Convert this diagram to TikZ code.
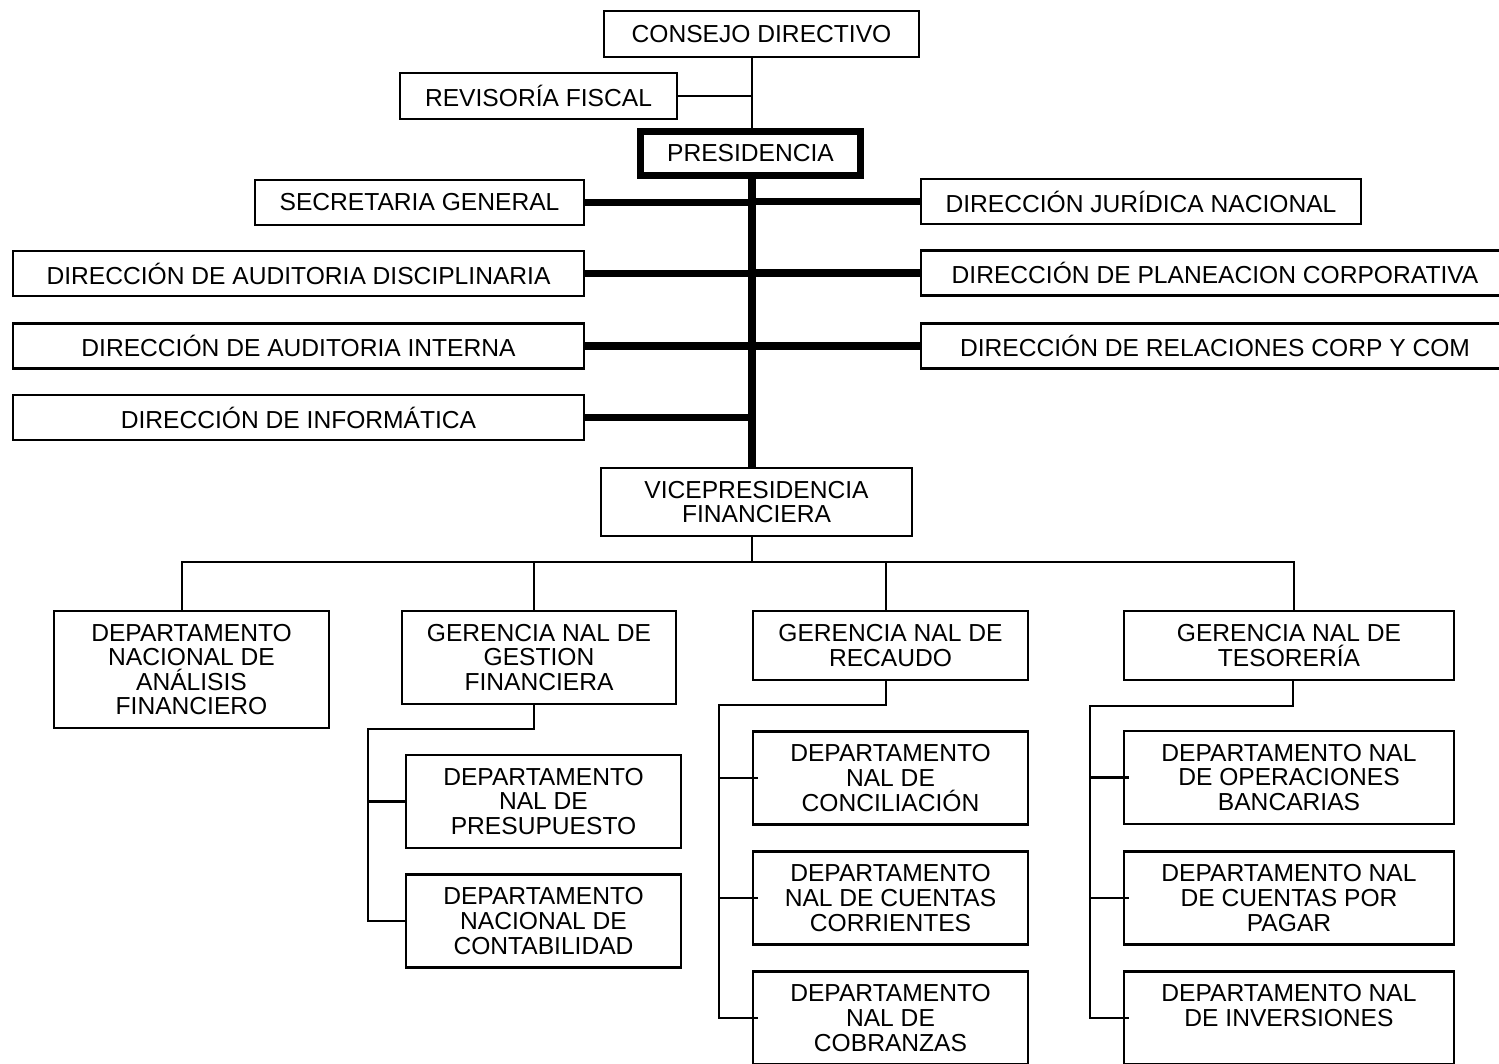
\documentclass[tikz,border=0pt]{standalone}
\usepackage{fontspec}
\setmainfont{Liberation Sans}
\usetikzlibrary{positioning}

\begin{document}
\begin{tikzpicture}
	[x=0.5pt,y=-0.5pt,
	box/.style={shape=rectangle,draw,line width=1.1pt,inner sep=0pt,align=center,font=\fontsize{12.3}{12.3}\selectfont},
	head box/.style={box,line width=3.5pt},
	line box/.style={box,minimum height=22.5pt},
	side box/.style={line box,minimum width=285.5pt},
	dept box/.style={box,minimum width=137.5pt,minimum height=46.5pt},
	tes box/.style={box,minimum width=165pt,minimum height=46.5pt},
	thin/.style={line width=1.1pt},
	thick line/.style={line width=3.7pt}
	]
	\useasboundingbox (0,0) rectangle (1499,1064);
	\clip (0,0) rectangle (1499,1064);

	\node [box,minimum width=157.5pt,minimum height=23pt] (1) at (761.5,34) {CONSEJO DIRECTIVO};
	\node [box,minimum width=138.5pt,minimum height=23pt] (2) at (538.5,96) {REVISORÍA FISCAL};
	\node [head box,minimum width=110pt,minimum height=22pt] (3) at (750.5,153.5) {PRESIDENCIA};

	\node [line box,minimum width=164.5pt] (4) at (419.5,202.5) {SECRETARIA GENERAL};
	\node [line box,minimum width=220pt] (5) at (1141,201.5) {DIRECCIÓN JURÍDICA NACIONAL};
	\node [side box] (6) at (298.5,273.5) {DIRECCIÓN DE AUDITORIA DISCIPLINARIA};
	\node [line box,minimum width=294pt] (7) at (1215,273) {DIRECCIÓN DE PLANEACION CORPORATIVA};
	\node [side box] (8) at (298.5,346) {DIRECCIÓN DE AUDITORIA INTERNA};
	\node [line box,minimum width=294pt] (9) at (1215,346) {DIRECCIÓN DE RELACIONES CORP Y COM};
	\node [side box] (10) at (298.5,417.5) {DIRECCIÓN DE INFORMÁTICA};

	\node [box,minimum width=155.5pt,minimum height=34pt] (11) at (756.5,502) {VICEPRESIDENCIA\\FINANCIERA};

	\node [box,minimum width=137.5pt,minimum height=58.5pt] (12) at (191.5,669.5) {DEPARTAMENTO\\NACIONAL DE\\ANÁLISIS\\FINANCIERO};
	\node [dept box,minimum width=137pt] (13) at (539,657.5) {GERENCIA NAL DE\\GESTION\\FINANCIERA};
	\node [box,minimum width=137.5pt,minimum height=34.5pt] (14) at (890.5,645.5) {GERENCIA NAL DE\\RECAUDO};
	\node [box,minimum width=165pt,minimum height=34.5pt] (15) at (1289,645.5) {GERENCIA NAL DE\\TESORERÍA};

	\node [dept box] (16) at (543.5,801.5) {DEPARTAMENTO\\NAL DE\\PRESUPUESTO};
	\node [dept box] (17) at (543.5,921) {DEPARTAMENTO\\NACIONAL DE\\CONTABILIDAD};

	\node [dept box] (18) at (890.5,778) {DEPARTAMENTO\\NAL DE\\CONCILIACIÓN};
	\node [dept box] (19) at (890.5,898) {DEPARTAMENTO\\NAL DE CUENTAS\\CORRIENTES};
	\node [dept box] (20) at (890.5,1018) {DEPARTAMENTO\\NAL DE\\COBRANZAS};

	\node [tes box] (21) at (1289,777.5) {DEPARTAMENTO NAL\\DE OPERACIONES\\BANCARIAS};
	\node [tes box] (22) at (1289,898) {DEPARTAMENTO NAL\\DE CUENTAS POR\\PAGAR};
	\node [tes box] (23) at (1289,1018) {DEPARTAMENTO NAL\\DE INVERSIONES\\\mbox{}};

	\coordinate (t) at (752,0);
	\coordinate (b1) at (182,562);
	\coordinate (b2) at (534,562);
	\coordinate (b3) at (886,562);
	\coordinate (b4) at (1294,562);
	\coordinate (g1) at (534,729);
	\coordinate (g2) at (368,729);
	\coordinate (r1) at (886,705);
	\coordinate (r2) at (719,705);
	\coordinate (s1) at (1293,706);
	\coordinate (s2) at (1090,706);

	\draw[thin] (1.south -| t) -- (3.north -| t);
	\path (2) edge[thin] (2 -| t);
	\draw[thick line] (3.south -| t) -- (11.north -| t);

	\path
	(4) edge[thick line] (4 -| t)
	(5) edge[thick line] (5 -| t)
	(6) edge[thick line] (6 -| t)
	(7) edge[thick line] (7 -| t)
	(8) edge[thick line] (8 -| t)
	(9) edge[thick line] (9 -| t)
	(10) edge[thick line] (10 -| t)
	;

	\draw[thin] (11.south -| t) -- (t |- b1);
	\draw[thin] (12.north -| b1) -- (b1) -- (b4) -- (15.north -| b4);
	\draw[thin] (b2) -- (13.north -| b2);
	\draw[thin] (b3) -- (14.north -| b3);

	\draw[thin] (13.south -| g1) -- (g1) -- (g2) -- (g2 |- 17.west) -- (17.west);
	\draw[thin] (g2 |- 16.west) -- (16.west);

	\draw[thin] (14.south -| r1) -- (r1) -- (r2) -- (r2 |- 20.west) -- ([xshift=3pt]20.west);
	\draw[thin] (r2 |- 18.west) -- ([xshift=3pt]18.west);
	\draw[thin] (r2 |- 19.west) -- ([xshift=3pt]19.west);

	\draw[thin] (15.south -| s1) -- (s1) -- (s2) -- (s2 |- 23.west) -- ([xshift=3pt]23.west);
	\draw[thin] (s2 |- 21.west) -- ([xshift=3pt]21.west);
	\draw[thin] (s2 |- 22.west) -- ([xshift=3pt]22.west);

\end{tikzpicture}
\end{document}
